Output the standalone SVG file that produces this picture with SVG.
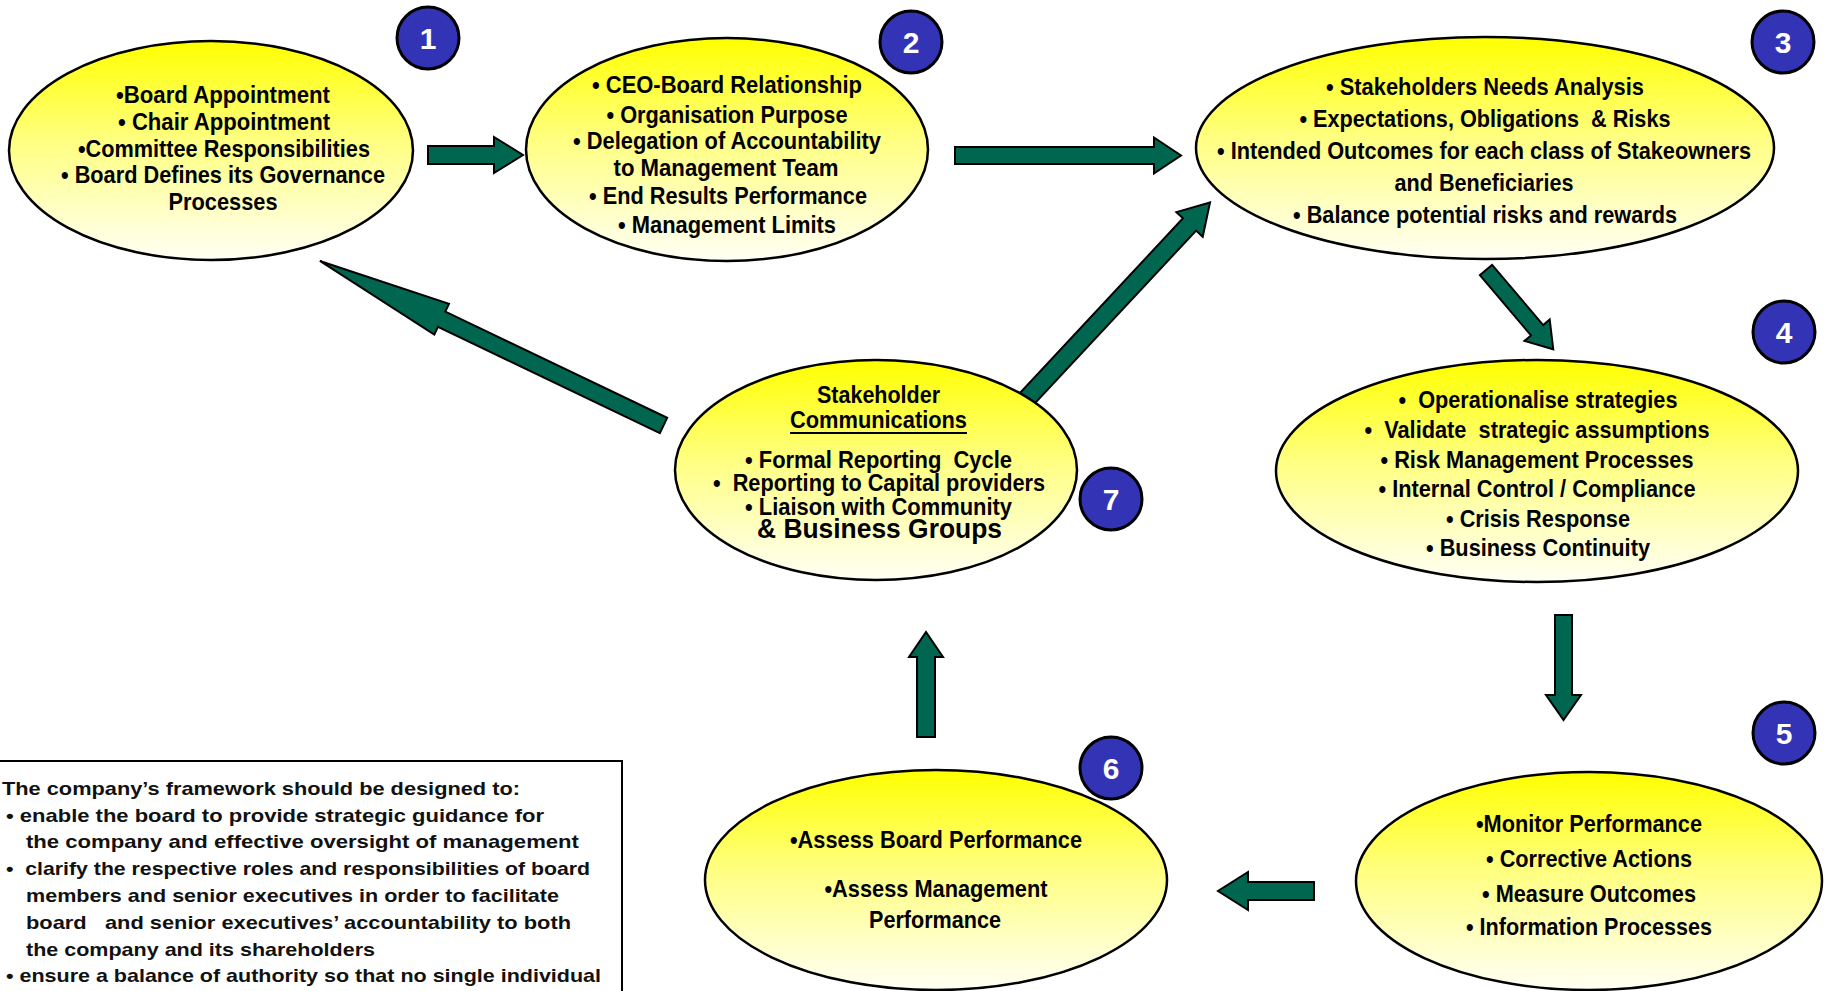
<svg xmlns="http://www.w3.org/2000/svg" width="1827" height="991" viewBox="0 0 1827 991">
<defs>
<linearGradient id="yg" x1="0" y1="0" x2="0" y2="1">
<stop offset="0" stop-color="#FFFF00"/>
<stop offset="0.45" stop-color="#FFFF80"/>
<stop offset="1" stop-color="#FFFFF6"/>
</linearGradient>
<style>
.el{fill:url(#yg);stroke:#000;stroke-width:2.5}
.t{font-family:"Liberation Sans",Arial,sans-serif;font-weight:bold;font-size:24px;fill:#000;text-anchor:middle;white-space:pre}
.t7{font-size:24px}
.bc{fill:#3333B5;stroke:#000;stroke-width:3}
.bn{font-family:"Liberation Sans",Arial,sans-serif;font-weight:bold;font-size:30px;fill:#fff;text-anchor:middle}
.arr{fill:#006650;stroke:#000;stroke-width:2;stroke-linejoin:miter}
.bx{fill:#fff;stroke:#000;stroke-width:2}
.tb{font-family:"Liberation Sans",Arial,sans-serif;font-weight:bold;font-size:19px;fill:#111;white-space:pre}
</style>
</defs>
<rect width="1827" height="991" fill="#fff"/>

<g id="connectors">
<polygon class="arr" transform="translate(428,155)" points="0,-9 66,-9 66,-18 95,0 66,18 66,9 0,9"/>
<polygon class="arr" transform="translate(955,155.5)" points="0,-8.5 199,-8.5 199,-18 226,0 199,18 199,8.5 0,8.5"/>
<polygon class="arr" transform="translate(1021,405) rotate(-46.97)" points="0,-9 247,-9 247,-18 277,0 247,18 247,9 0,9"/>
<polygon class="arr" transform="translate(1486,270) rotate(49.7)" points="0,-8 79,-8 79,-16.5 104,0 79,16.5 79,8 0,8"/>
<polygon class="arr" transform="translate(1563.5,615) rotate(90)" points="0,-8.5 80,-8.5 80,-17.5 105,0 80,17.5 80,8.5 0,8.5"/>
<polygon class="arr" transform="translate(1314,891) rotate(180)" points="0,-9 66,-9 66,-19 96,0 66,19 66,9 0,9"/>
<polygon class="arr" transform="translate(926,737) rotate(-90)" points="0,-9 80,-9 80,-17 105,0 80,17 80,9 0,9"/>
<polygon class="arr" transform="translate(663.5,425.5) rotate(-154.41)" points="0,-8.5 246,-8.5 246,-17 381,0 246,17 246,8.5 0,8.5"/>
</g>

<g id="node1">
<ellipse class="el" cx="211" cy="150.5" rx="202" ry="109.5"/>
<text class="t" x="223" y="103" textLength="214" lengthAdjust="spacingAndGlyphs">•Board Appointment</text>
<text class="t" x="224" y="130" textLength="212" lengthAdjust="spacingAndGlyphs">• Chair Appointment</text>
<text class="t" x="224" y="157" textLength="292" lengthAdjust="spacingAndGlyphs">•Committee Responsibilities</text>
<text class="t" x="223" y="183" textLength="324" lengthAdjust="spacingAndGlyphs">• Board Defines its Governance</text>
<text class="t" x="223" y="210" textLength="109" lengthAdjust="spacingAndGlyphs">Processes</text>
</g>

<g id="node2">
<ellipse class="el" cx="727" cy="149.5" rx="201" ry="111.5"/>
<text class="t" x="727" y="93" textLength="270" lengthAdjust="spacingAndGlyphs">• CEO-Board Relationship</text>
<text class="t" x="727" y="123" textLength="241" lengthAdjust="spacingAndGlyphs">• Organisation Purpose</text>
<text class="t" x="727" y="149" textLength="308" lengthAdjust="spacingAndGlyphs">• Delegation of Accountability</text>
<text class="t" x="726" y="176" textLength="225" lengthAdjust="spacingAndGlyphs">to Management Team</text>
<text class="t" x="728" y="204" textLength="278" lengthAdjust="spacingAndGlyphs">• End Results Performance</text>
<text class="t" x="727" y="233" textLength="218" lengthAdjust="spacingAndGlyphs">• Management Limits</text>
</g>

<g id="node3">
<ellipse class="el" cx="1485" cy="148" rx="289" ry="111"/>
<text class="t" x="1485" y="95" textLength="318" lengthAdjust="spacingAndGlyphs">• Stakeholders Needs Analysis</text>
<text class="t" x="1485" y="127" textLength="371" lengthAdjust="spacingAndGlyphs">• Expectations, Obligations  &amp; Risks</text>
<text class="t" x="1484" y="159" textLength="534" lengthAdjust="spacingAndGlyphs">• Intended Outcomes for each class of Stakeowners</text>
<text class="t" x="1484" y="191" textLength="179" lengthAdjust="spacingAndGlyphs">and Beneficiaries</text>
<text class="t" x="1485" y="223" textLength="384" lengthAdjust="spacingAndGlyphs">• Balance potential risks and rewards</text>
</g>

<g id="node4">
<ellipse class="el" cx="1537" cy="471" rx="261" ry="111"/>
<text class="t" x="1538" y="408" textLength="279" lengthAdjust="spacingAndGlyphs">•  Operationalise strategies</text>
<text class="t" x="1537" y="438" textLength="345" lengthAdjust="spacingAndGlyphs">•  Validate  strategic assumptions</text>
<text class="t" x="1537" y="468" textLength="313" lengthAdjust="spacingAndGlyphs">• Risk Management Processes</text>
<text class="t" x="1537" y="497" textLength="317" lengthAdjust="spacingAndGlyphs">• Internal Control / Compliance</text>
<text class="t" x="1538" y="527" textLength="184" lengthAdjust="spacingAndGlyphs">• Crisis Response</text>
<text class="t" x="1538" y="556" textLength="224" lengthAdjust="spacingAndGlyphs">• Business Continuity</text>
</g>

<g id="node5">
<ellipse class="el" cx="1589" cy="881" rx="233" ry="109"/>
<text class="t" x="1589" y="832" textLength="226" lengthAdjust="spacingAndGlyphs">•Monitor Performance</text>
<text class="t" x="1589" y="867" textLength="206" lengthAdjust="spacingAndGlyphs">• Corrective Actions</text>
<text class="t" x="1589" y="902" textLength="214" lengthAdjust="spacingAndGlyphs">• Measure Outcomes</text>
<text class="t" x="1589" y="935" textLength="246" lengthAdjust="spacingAndGlyphs">• Information Processes</text>
</g>

<g id="node6">
<ellipse class="el" cx="936" cy="880" rx="231" ry="110"/>
<text class="t" x="936" y="848" textLength="292" lengthAdjust="spacingAndGlyphs">•Assess Board Performance</text>
<text class="t" x="936" y="897" textLength="223" lengthAdjust="spacingAndGlyphs">•Assess Management</text>
<text class="t" x="935" y="928" textLength="132" lengthAdjust="spacingAndGlyphs">Performance</text>
</g>

<g id="node7">
<ellipse class="el" cx="876" cy="470" rx="201" ry="110"/>
<text class="t t7" x="878.5" y="403" textLength="123" lengthAdjust="spacingAndGlyphs">Stakeholder</text>
<text class="t t7" x="878.5" y="428" textLength="177" lengthAdjust="spacingAndGlyphs">Communications</text>
<line x1="790" y1="433" x2="967" y2="433" stroke="#000" stroke-width="2"/>
<text class="t t7" x="878.5" y="468" textLength="267" lengthAdjust="spacingAndGlyphs">• Formal Reporting  Cycle</text>
<text class="t t7" x="879" y="491" textLength="332" lengthAdjust="spacingAndGlyphs">•  Reporting to Capital providers</text>
<text class="t t7" x="878.5" y="515" textLength="267" lengthAdjust="spacingAndGlyphs">• Liaison with Community</text>
<text class="t" style="font-size:27px" x="879.5" y="538" textLength="245" lengthAdjust="spacingAndGlyphs">&amp; Business Groups</text>
</g>

<g id="badge1"><circle class="bc" cx="428" cy="38" r="31"/><text class="bn" x="428" y="49">1</text></g>
<g id="badge2"><circle class="bc" cx="911" cy="42" r="31"/><text class="bn" x="911" y="53">2</text></g>
<g id="badge3"><circle class="bc" cx="1783" cy="42" r="31"/><text class="bn" x="1783" y="53">3</text></g>
<g id="badge4"><circle class="bc" cx="1784" cy="332" r="31"/><text class="bn" x="1784" y="343">4</text></g>
<g id="badge5"><circle class="bc" cx="1784" cy="733" r="31"/><text class="bn" x="1784" y="744">5</text></g>
<g id="badge6"><circle class="bc" cx="1111" cy="768" r="31"/><text class="bn" x="1111" y="779">6</text></g>
<g id="badge7"><circle class="bc" cx="1111" cy="499" r="31"/><text class="bn" x="1111" y="510">7</text></g>

<g id="textbox">
<rect class="bx" x="-3" y="761" width="625" height="240"/>
<text class="tb" x="2" y="795" textLength="518" lengthAdjust="spacingAndGlyphs">The company’s framework should be designed to:</text>
<text class="tb" x="6" y="822" textLength="538" lengthAdjust="spacingAndGlyphs">• enable the board to provide strategic guidance for</text>
<text class="tb" x="26" y="848" textLength="553" lengthAdjust="spacingAndGlyphs">the company and effective oversight of management</text>
<text class="tb" x="6" y="875" textLength="584" lengthAdjust="spacingAndGlyphs">•  clarify the respective roles and responsibilities of board</text>
<text class="tb" x="26" y="902" textLength="533" lengthAdjust="spacingAndGlyphs">members and senior executives in order to facilitate</text>
<text class="tb" x="26" y="929" textLength="545" lengthAdjust="spacingAndGlyphs">board   and senior executives’ accountability to both</text>
<text class="tb" x="26" y="956" textLength="349" lengthAdjust="spacingAndGlyphs">the company and its shareholders</text>
<text class="tb" x="6" y="982" textLength="595" lengthAdjust="spacingAndGlyphs">• ensure a balance of authority so that no single individual</text>
</g>
</svg>
